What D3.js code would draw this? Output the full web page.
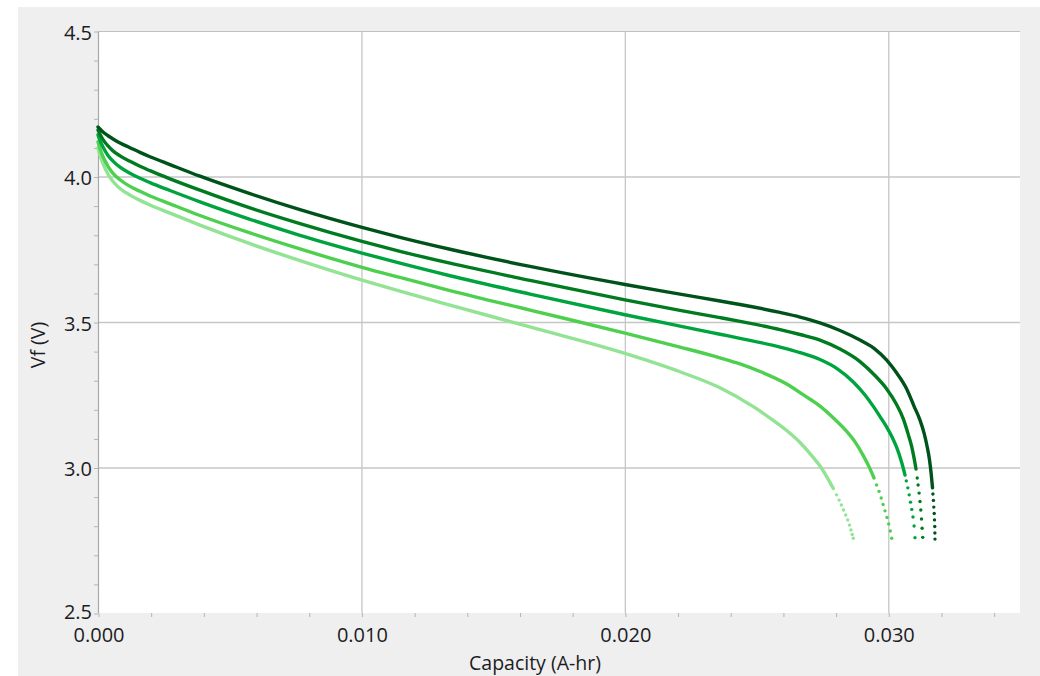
<!DOCTYPE html>
<html>
<head>
<meta charset="utf-8">
<script src="https://cdn.jsdelivr.net/npm/d3@7"></script>
<style>
  html, body { margin: 0; padding: 0; background: #ffffff; }
  svg { display: block; }
  text { font-family: "Open Sans", Lato, sans-serif; fill: #1c1c24; }
</style>
</head>
<body>
<svg id="chart" width="1040" height="676"></svg>
<script>
// ---------- data ----------
const xMajorTicks = [0, 0.01, 0.02, 0.03];
const xTickLabels = ["0.000", "0.010", "0.020", "0.030"];
const yMajorTicks = [2.5, 3.0, 3.5, 4.0, 4.5];
const yTickLabels = ["2.5", "3.0", "3.5", "4.0", "4.5"];
const xTitle = "Capacity (A-hr)";
const yTitle = "Vf (V)";

// [capacity (A-hr), voltage (V)] — lightest (s1) to darkest (s5)
const s1Body = [[0,4.098],[0.000076,4.073],[0.000190,4.044],[0.000380,4.008],[0.000569,3.983],[0.000835,3.959],[0.001215,3.936],[0.001594,3.918],[0.001974,3.902],[0.002733,3.874],[0.003872,3.833],[0.005770,3.769],[0.007668,3.711],[0.010022,3.644],[0.011464,3.606],[0.013362,3.558],[0.016399,3.483],[0.020005,3.392],[0.022093,3.329],[0.023611,3.274],[0.024876,3.209],[0.025510,3.170],[0.026143,3.127],[0.026649,3.086],[0.027028,3.048],[0.027408,3.005],[0.027662,2.969],[0.027913,2.928]];
const s1Tail = [[0.028035,2.906],[0.028133,2.888],[0.028217,2.871],[0.028300,2.854],[0.028384,2.837],[0.028459,2.820],[0.028528,2.802],[0.028581,2.785],[0.028630,2.770],[0.028672,2.757]];

const s2Body = [[0,4.119],[0.000076,4.096],[0.000190,4.068],[0.000380,4.035],[0.000569,4.011],[0.000835,3.989],[0.001215,3.966],[0.001594,3.949],[0.001974,3.933],[0.002733,3.906],[0.003872,3.866],[0.005770,3.806],[0.007668,3.751],[0.010022,3.688],[0.011464,3.653],[0.013362,3.608],[0.016399,3.541],[0.020005,3.462],[0.022093,3.414],[0.023611,3.377],[0.024371,3.356],[0.025130,3.330],[0.026143,3.287],[0.026838,3.246],[0.027408,3.211],[0.027977,3.165],[0.028421,3.124],[0.028737,3.088],[0.029051,3.041],[0.029268,3.003],[0.029458,2.964]];
const s2Tail = [[0.029557,2.940],[0.029648,2.918],[0.029731,2.895],[0.029803,2.873],[0.029875,2.851],[0.029951,2.828],[0.030016,2.806],[0.030076,2.782],[0.030130,2.757]];

const s3Body = [[0,4.143],[0.000076,4.124],[0.000190,4.101],[0.000380,4.072],[0.000569,4.053],[0.000835,4.032],[0.001215,4.011],[0.001594,3.994],[0.001974,3.979],[0.002733,3.952],[0.003872,3.913],[0.005770,3.853],[0.007668,3.798],[0.010022,3.737],[0.011464,3.702],[0.013362,3.659],[0.016399,3.596],[0.020005,3.525],[0.022093,3.486],[0.023611,3.458],[0.024371,3.444],[0.025889,3.414],[0.026649,3.395],[0.027408,3.371],[0.028053,3.340],[0.028672,3.294],[0.029116,3.249],[0.029431,3.210],[0.029686,3.175],[0.029940,3.139],[0.030130,3.107],[0.030319,3.069],[0.030509,3.017],[0.030635,2.974]];
const s3Tail = [[0.030684,2.954],[0.030741,2.930],[0.030794,2.906],[0.030843,2.881],[0.030893,2.856],[0.030938,2.830],[0.030980,2.799],[0.031014,2.759]];

const s4Body = [[0,4.160],[0.000076,4.145],[0.000190,4.127],[0.000380,4.105],[0.000569,4.088],[0.000835,4.071],[0.001215,4.052],[0.001594,4.035],[0.001974,4.020],[0.002733,3.992],[0.003872,3.953],[0.005770,3.892],[0.007668,3.838],[0.010022,3.777],[0.011464,3.743],[0.013362,3.702],[0.016399,3.643],[0.020005,3.576],[0.022093,3.540],[0.023611,3.515],[0.024371,3.502],[0.025889,3.474],[0.026649,3.457],[0.027408,3.438],[0.028167,3.407],[0.028926,3.364],[0.029495,3.316],[0.029940,3.270],[0.030293,3.220],[0.030570,3.167],[0.030760,3.113],[0.030889,3.072],[0.030976,3.034],[0.031052,2.995]];
const s4Tail = [[0.031098,2.964],[0.031132,2.940],[0.031170,2.912],[0.031204,2.883],[0.031235,2.854],[0.031261,2.823],[0.031284,2.791],[0.031307,2.760]];

const s5Body = [[0,4.170],[0.000076,4.163],[0.000190,4.153],[0.000380,4.140],[0.000569,4.129],[0.000835,4.115],[0.001215,4.099],[0.001594,4.083],[0.001974,4.068],[0.002733,4.041],[0.003872,4.001],[0.005770,3.941],[0.007668,3.886],[0.010022,3.825],[0.011464,3.791],[0.013362,3.750],[0.016399,3.691],[0.020005,3.629],[0.022093,3.596],[0.023611,3.572],[0.024371,3.560],[0.025889,3.533],[0.026649,3.517],[0.027408,3.497],[0.028167,3.471],[0.028926,3.438],[0.029495,3.407],[0.029940,3.369],[0.030293,3.328],[0.030699,3.270],[0.030976,3.211],[0.031204,3.163],[0.031356,3.119],[0.031470,3.074],[0.031565,3.026],[0.031629,2.978],[0.031679,2.930]];
const s5Tail = [[0.031694,2.909],[0.031713,2.887],[0.031728,2.864],[0.031743,2.842],[0.031755,2.820],[0.031764,2.797],[0.031769,2.775],[0.031773,2.754]];

const seriesBodies = [s1Body, s2Body, s3Body, s4Body, s5Body];
const seriesTails = [s1Tail, s2Tail, s3Tail, s4Tail, s5Tail];
const seriesColors = ["#93e394", "#4dd04d", "#00a43e", "#007b1f", "#00521b"];

// ---------- layout ----------
const svg = d3.select("#chart");
const W = 1040, H = 676;
const plot = { left: 98, top: 31, right: 1020, bottom: 613 };

svg.append("rect").attr("x", 18).attr("y", 7).attr("width", W - 18).attr("height", H - 7).attr("fill", "#efefef");
svg.append("rect").attr("x", plot.left).attr("y", plot.top)
   .attr("width", plot.right - plot.left).attr("height", plot.bottom - plot.top).attr("fill", "#ffffff");

const x = d3.scaleLinear().domain([0, 0.035]).range([plot.left, plot.right]);
const y = d3.scaleLinear().domain([2.5, 4.5]).range([plot.bottom, plot.top]);

// gridlines
const grid = svg.append("g");
grid.selectAll("line.gx").data(xMajorTicks.filter(d => d > 0)).enter().append("line")
  .attr("x1", d => x(d) + 0.5).attr("x2", d => x(d) + 0.5)
  .attr("y1", plot.top).attr("y2", plot.bottom)
  .attr("stroke", "#c6c6c6").attr("stroke-width", 1.3);
grid.selectAll("line.gy").data(yMajorTicks.filter(d => d > 2.5 && d < 4.5)).enter().append("line")
  .attr("x1", plot.left).attr("x2", plot.right)
  .attr("y1", d => y(d) + 0.5).attr("y2", d => y(d) + 0.5)
  .attr("stroke", "#c6c6c6").attr("stroke-width", 1.3);

// axes (minor ticks via d3 axes)
const xAxis = d3.axisBottom(x).tickValues(d3.range(0, 0.0351, 0.002)).tickSize(4).tickFormat("");
const gx = svg.append("g").attr("transform", `translate(0.5,${plot.bottom})`).call(xAxis);
gx.select(".domain").remove();
gx.selectAll(".tick line").attr("stroke", "#b4b4b4");

const yAxis = d3.axisLeft(y).tickValues(d3.range(25, 46, 1).map(d => d / 10)).tickSize(4).tickFormat("");
const gy = svg.append("g").attr("transform", `translate(${plot.left},0.5)`).call(yAxis);
gy.select(".domain").remove();
gy.selectAll(".tick line").attr("stroke", "#b4b4b4");

// frame lines (left axis, top border)
svg.append("line").attr("x1", plot.left + 0.5).attr("x2", plot.left + 0.5)
  .attr("y1", plot.top).attr("y2", plot.bottom).attr("stroke", "#a8a8a8").attr("stroke-width", 1.2);
svg.append("line").attr("x1", plot.left).attr("x2", plot.right)
  .attr("y1", plot.top + 0.5).attr("y2", plot.top + 0.5).attr("stroke", "#c0c0c0").attr("stroke-width", 1);

// tick labels
svg.append("g").selectAll("text").data(xMajorTicks).enter().append("text")
  .attr("x", d => x(d) + 1).attr("y", 634)
  .attr("text-anchor", "middle").attr("dominant-baseline", "central")
  .style("font-size", "20px")
  .text((d, i) => xTickLabels[i]);
svg.append("g").selectAll("text").data(yMajorTicks).enter().append("text")
  .attr("x", 92).attr("y", d => d === 2.5 ? y(d) - 2 : y(d) + 1)
  .attr("text-anchor", "end").attr("dominant-baseline", "central")
  .style("font-size", "20px")
  .text((d, i) => yTickLabels[i]);

// axis titles
svg.append("text").attr("x", 535).attr("y", 662)
  .attr("text-anchor", "middle").attr("dominant-baseline", "central")
  .style("font-size", "19.5px").text(xTitle);
svg.append("text").attr("transform", "translate(37,345) rotate(-90)")
  .attr("text-anchor", "middle").attr("dominant-baseline", "central")
  .style("font-size", "19.5px").text(yTitle);

// series
const line = d3.line().x(d => x(d[0])).y(d => y(d[1])).curve(d3.curveMonotoneX);
const series = svg.append("g");
seriesBodies.forEach((body, i) => {
  series.append("path").attr("d", line(body))
    .attr("fill", "none").attr("stroke", seriesColors[i])
    .attr("stroke-width", 3.4).attr("stroke-linecap", "round").attr("stroke-linejoin", "round");
  series.selectAll(null).data(seriesTails[i]).enter().append("circle")
    .attr("cx", d => x(d[0])).attr("cy", d => y(d[1])).attr("r", 1.7)
    .attr("fill", seriesColors[i]);
});
</script>
</body>
</html>
